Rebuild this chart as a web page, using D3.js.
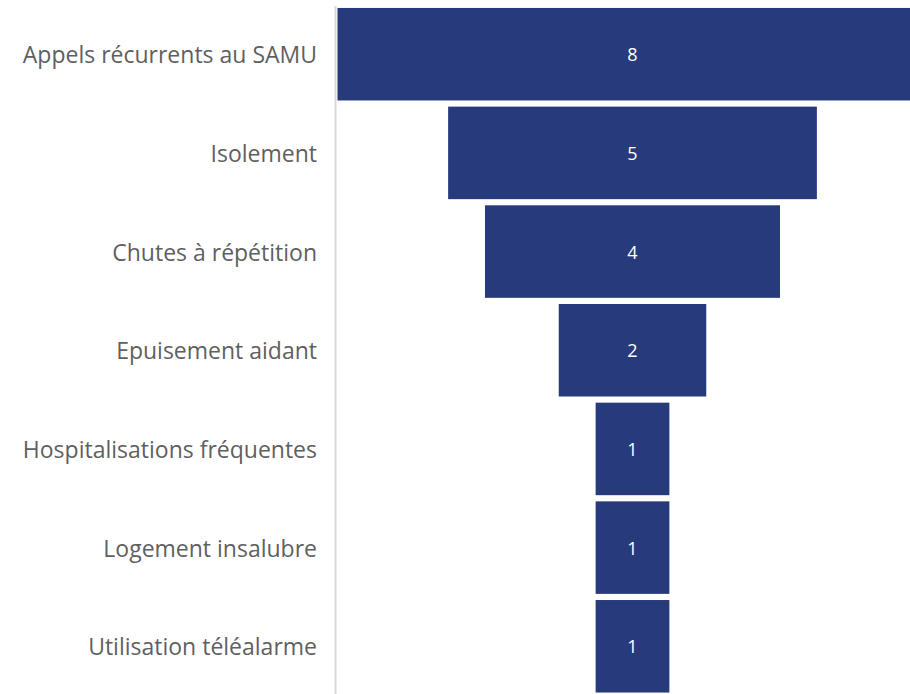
<!DOCTYPE html>
<html>
<head>
<meta charset="utf-8">
<script src="https://cdn.jsdelivr.net/npm/d3@7"></script>
<style>
body { margin: 0; background: #fff; }
svg { display: block; }
</style>
</head>
<body>
<svg id="chart" width="910" height="694"></svg>
<script>
var categories = ["Appels récurrents au SAMU", "Isolement", "Chutes à répétition", "Epuisement aidant",
	"Hospitalisations fréquentes", "Logement insalubre", "Utilisation téléalarme"];
var values = [8, 5, 4, 2, 1, 1, 1];

var svg = d3.select("#chart");
var centerX = 632.5;

var yScale = d3.scaleBand().domain(categories).range([4.9, 695.6]).paddingInner(0.0625).paddingOuter(0.031);
var wScale = d3.scaleLinear().domain([0, 8]).range([0, 590]);

// axis line
svg.append("line")
	.attr("x1", 335.5).attr("x2", 335.5)
	.attr("y1", 6).attr("y2", 694)
	.style("stroke", "#d9d9d9")
	.style("stroke-width", "2px");

var data = categories.map((c, i) => ({cat: c, v: values[i]}));

svg.selectAll("rect.bar")
	.data(data)
	.enter()
	.append("rect")
	.attr("class", "bar")
	.attr("x", d => centerX - wScale(d.v) / 2)
	.attr("y", d => yScale(d.cat))
	.attr("width", d => wScale(d.v))
	.attr("height", yScale.bandwidth())
	.style("fill", "#263a7c");

svg.selectAll("text.val")
	.data(data)
	.enter()
	.append("text")
	.attr("class", "val")
	.attr("x", centerX)
	.attr("y", d => yScale(d.cat) + yScale.bandwidth() / 2)
	.attr("text-anchor", "middle")
	.attr("dominant-baseline", "central")
	.style("font-family", "'Open Sans', sans-serif")
	.style("font-size", "18px")
	.style("fill", "#ffffff")
	.text(d => d.v);

svg.selectAll("text.cat")
	.data(data)
	.enter()
	.append("text")
	.attr("class", "cat")
	.attr("x", 317)
	.attr("y", d => yScale(d.cat) + yScale.bandwidth() / 2)
	.attr("text-anchor", "end")
	.attr("dominant-baseline", "central")
	.style("font-family", "'Open Sans', sans-serif")
	.style("font-size", "23px")
	.style("fill", "#5f5f5f")
	.text(d => d.cat);
</script>
</body>
</html>
